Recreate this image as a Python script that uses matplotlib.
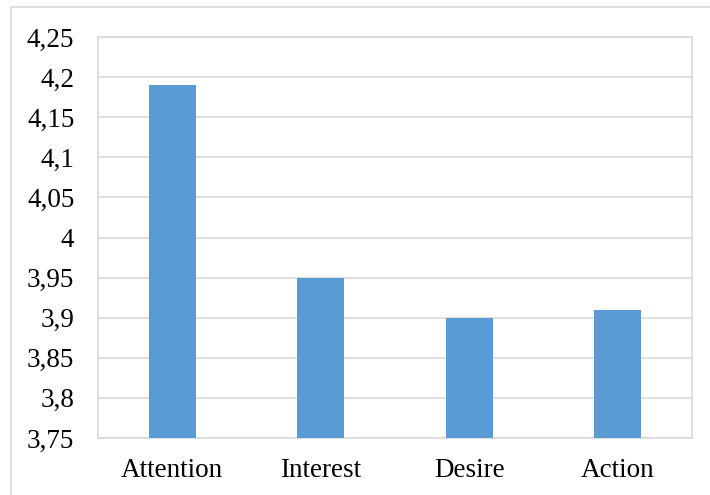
import matplotlib.pyplot as plt
from matplotlib.patches import Rectangle
from matplotlib.ticker import FuncFormatter

categories = ['Attention', 'Interest', 'Desire', 'Action']
values = [4.19, 3.95, 3.90, 3.91]
yticks = [3.75, 3.8, 3.85, 3.9, 3.95, 4.0, 4.05, 4.1, 4.15, 4.2, 4.25]

plt.rcParams['font.family'] = ['Liberation Serif', 'DejaVu Serif']

fig = plt.figure(figsize=(7.1, 4.95), dpi=100)
# outer chart border, like the Excel chart area
fig.patches.append(Rectangle((11 / 710, -0.01), 1.0, 1 - 7 / 495 + 0.01,
                             transform=fig.transFigure, fill=False,
                             edgecolor='#D9D9D9', linewidth=1.2))

ax = fig.add_axes([98 / 710, 1 - 438 / 495, (692 - 98) / 710, (438 - 37) / 495])
x = range(len(categories))
ax.bar(x, values, width=0.316, color='#5B9BD5', zorder=3)

ax.set_xlim(-0.5, len(categories) - 0.5)
ax.set_ylim(3.75, 4.25)
ax.set_yticks(yticks)
ax.yaxis.set_major_formatter(FuncFormatter(lambda v, p: ('%g' % round(v, 2)).replace('.', ',')))
ax.set_xticks(list(x))
ax.set_xticklabels(categories)
ax.grid(axis='y', color='#D9D9D9', linewidth=1.2, zorder=0)
for s in ax.spines.values():
    s.set_color('#D9D9D9')
    s.set_linewidth(1.2)
ax.tick_params(axis='both', length=0, labelsize=19.5, colors='black')
ax.tick_params(axis='y', pad=17)
ax.tick_params(axis='x', pad=14.5)

fig.savefig('out.png', dpi=100)
